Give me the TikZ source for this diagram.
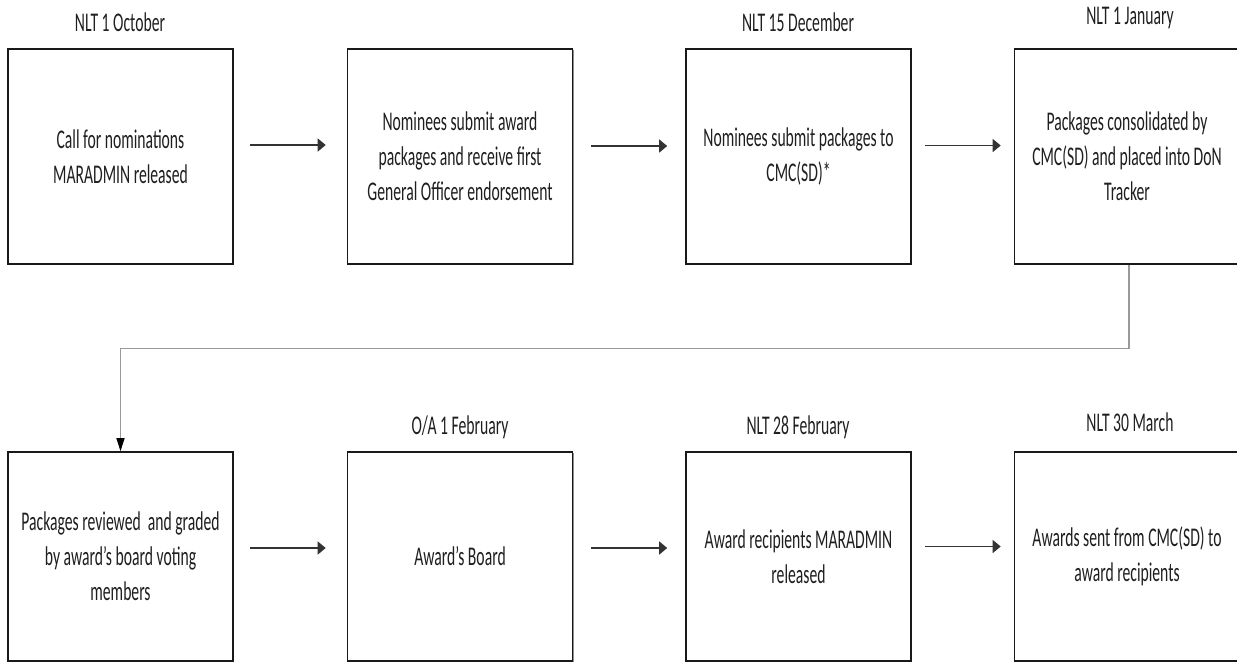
\documentclass[tikz,border=0pt]{standalone}
\usepackage{fontspec}
\setmainfont{Carlito}[FakeStretch=0.58]
\usetikzlibrary{arrows.meta,shadows}
\tikzset{
  txt/.style={font=\fontsize{20.25pt}{26.25pt}\selectfont, text=black!88, align=center, inner sep=0pt},
  stepbox/.style={txt, draw=black!90, line width=1.2pt, fill=white,
    drop shadow={shadow xshift=0.9pt, shadow yshift=-0.9pt, fill=black!45, opacity=1},
    minimum width=168.75pt},
  rowA/.style={stepbox, minimum height=161.25pt},
  rowB/.style={stepbox, minimum height=156.75pt},
  title/.style={txt},
  harrow/.style={draw=black!80, line width=1pt, -{Triangle[length=6pt,width=9.75pt]}},
  conn/.style={draw=black!40, line width=1pt, -{Triangle[length=9.75pt,width=6pt,color=black]}}
}
\begin{document}
\begin{tikzpicture}[x=0.75pt,y=-0.75pt]
\useasboundingbox (0,0) rectangle (1237,662);
% row 1 boxes
\node[rowA] (b1) at (120.5,156.5) {Call for nominations\\MARADMIN released};
\node[rowA] (b2) at (460,156.5) {Nominees submit award\\packages and receive first\\General Officer endorsement};
\node[rowA] (b3) at (798.5,156.5) {Nominees submit packages to\\CMC(SD)*};
\node[rowA] (b4) at (1127,156.5) {Packages consolidated by\\CMC(SD) and placed into DoN\\Tracker};
% row 2 boxes
\node[rowB] (b5) at (120.5,556.5) {Packages reviewed\ \ and graded\\by award’s board voting\\members};
\node[rowB] (b6) at (460,556.5) {Award’s Board};
\node[rowB] (b7) at (798.5,556.5) {Award recipients MARADMIN\\released};
\node[rowB] (b8) at (1127,556.5) {Awards sent from CMC(SD) to\\award recipients};
% titles
\node[title] (t1) at (120,22) {NLT 1 October};
\node[title] (t3) at (798,22) {NLT 15 December};
\node[title] (t4) at (1130,18) {NLT 1 January};
\node[title] (t6) at (460,427) {O/A 1 February};
\node[title] (t7) at (798,427) {NLT 28 February};
\node[title] (t8) at (1130,422) {NLT 30 March};
% arrows row 1
\draw[harrow] ([shift={(16,-11.5)}]b1.east) -- ([shift={(-21,-11.5)}]b2.west);
\draw[harrow] ([shift={(18,-10.5)}]b2.east) -- ([shift={(-18,-10.5)}]b3.west);
\draw[harrow] ([shift={(13,-11)}]b3.east) -- ([shift={(-13,-11)}]b4.west);
% arrows row 2
\draw[harrow] ([shift={(16,-8.5)}]b5.east) -- ([shift={(-21,-8.5)}]b6.west);
\draw[harrow] ([shift={(18,-8.5)}]b6.east) -- ([shift={(-18,-8.5)}]b7.west);
\draw[harrow] ([shift={(13,-10)}]b7.east) -- ([shift={(-13,-10)}]b8.west);
% connector
\draw[conn] ([xshift=1.5pt]b4.south) -- ++(0,84) -| (b5.north);
\end{tikzpicture}
\end{document}
